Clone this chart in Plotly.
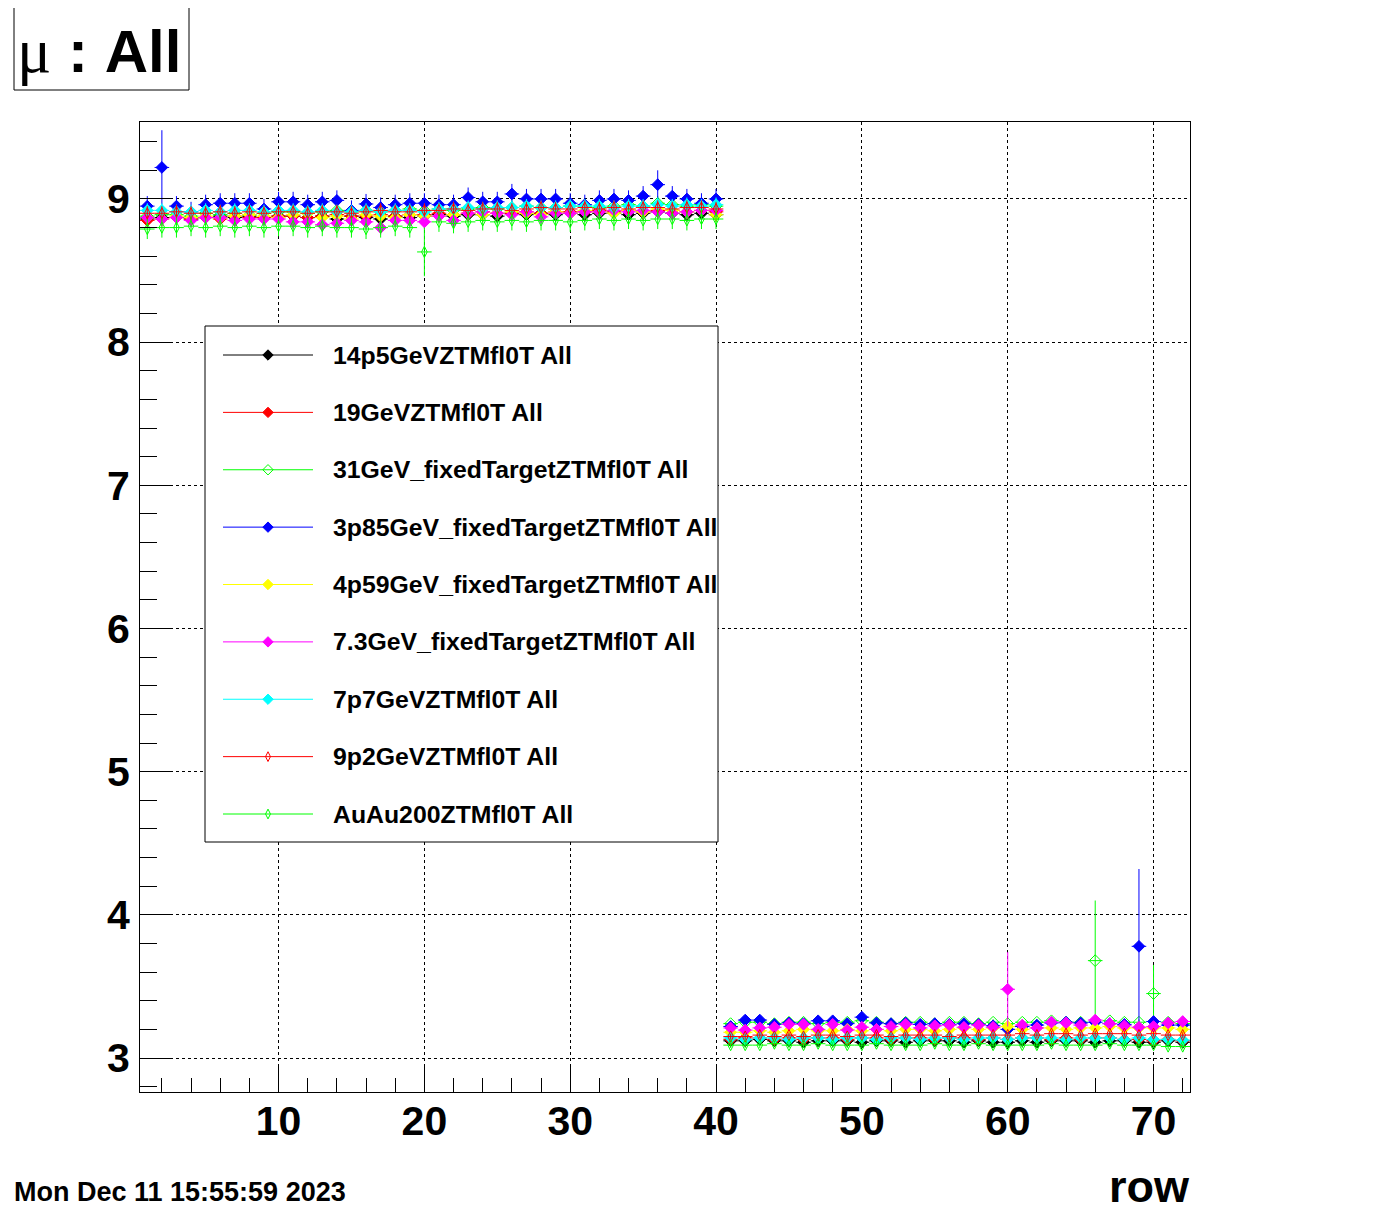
import plotly.graph_objects as go

# ---------------- data ----------------
rows = list(range(1, 73))

names = [
    "14p5GeVZTMfl0T All",
    "19GeVZTMfl0T All",
    "31GeV_fixedTargetZTMfl0T All",
    "3p85GeV_fixedTargetZTMfl0T All",
    "4p59GeV_fixedTargetZTMfl0T All",
    "7.3GeV_fixedTargetZTMfl0T All",
    "7p7GeVZTMfl0T All",
    "9p2GeVZTMfl0T All",
    "AuAu200ZTMfl0T All",
]

v_14p5 = [8.86, 8.87, 8.87, 8.86, 8.87, 8.88, 8.87, 8.88, 8.87, 8.88,
          8.88, 8.87, 8.88, 8.86, 8.88, 8.87, 8.86, 8.88, 8.87, 8.88,
          8.89, 8.88, 8.89, 8.89, 8.88, 8.90, 8.89, 8.90, 8.89, 8.90,
          8.89, 8.90, 8.90, 8.89, 8.90, 8.91, 8.90, 8.89, 8.90, 8.89,
          3.12, 3.12, 3.13, 3.12, 3.12, 3.11, 3.12, 3.12, 3.12, 3.11,
          3.12, 3.12, 3.11, 3.12, 3.12, 3.12, 3.11, 3.12, 3.11, 3.11,
          3.12, 3.11, 3.12, 3.12, 3.12, 3.11, 3.12, 3.12, 3.11, 3.11,
          3.12, 3.11]

v_19 = [8.85, 8.86, 8.87, 8.86, 8.87, 8.86, 8.88, 8.87, 8.87, 8.88,
        8.88, 8.87, 8.88, 8.89, 8.88, 8.88, 8.89, 8.88, 8.89, 8.89,
        8.90, 8.89, 8.90, 8.91, 8.90, 8.90, 8.91, 8.90, 8.91, 8.91,
        8.91, 8.92, 8.91, 8.92, 8.91, 8.92, 8.92, 8.91, 8.92, 8.91,
        3.13, 3.14, 3.14, 3.13, 3.14, 3.13, 3.14, 3.14, 3.13, 3.14,
        3.14, 3.13, 3.14, 3.14, 3.13, 3.14, 3.14, 3.13, 3.14, 3.13,
        3.14, 3.14, 3.13, 3.14, 3.13, 3.14, 3.14, 3.13, 3.13, 3.12,
        3.13, 3.12]

v_31 = [8.88, 8.89, 8.89, 8.88, 8.90, 8.89, 8.90, 8.89, 8.90, 8.91,
        8.91, 8.90, 8.91, 8.92, 8.91, 8.92, 8.91, 8.92, 8.93, 8.92,
        8.93, 8.92, 8.93, 8.94, 8.93, 8.94, 8.95, 8.94, 8.94, 8.95,
        8.95, 8.94, 8.95, 8.96, 8.95, 8.97, 8.96, 8.95, 8.96, 8.95,
        3.24, 3.25, 3.25, 3.24, 3.25, 3.25, 3.24, 3.25, 3.25, 3.26,
        3.25, 3.24, 3.25, 3.25, 3.24, 3.25, 3.25, 3.24, 3.25, 3.24,
        3.25, 3.25, 3.26, 3.25, 3.25, 3.68, 3.26, 3.25, 3.25, 3.45,
        3.25, 3.24]

v_3p85 = [8.95, 9.22, 8.95, 8.91, 8.96, 8.97, 8.97, 8.97, 8.93, 8.98,
          8.98, 8.96, 8.98, 8.99, 8.92, 8.965, 8.94, 8.96, 8.97, 8.97,
          8.96, 8.96, 9.01, 8.98, 8.98, 9.035, 9.00, 9.00, 9.00, 8.97,
          8.96, 8.99, 9.00, 8.99, 9.02, 9.10, 9.02, 9.00, 8.97, 9.00,
          3.22, 3.265, 3.265, 3.235, 3.245, 3.24, 3.26, 3.26, 3.24, 3.285,
          3.245, 3.24, 3.245, 3.235, 3.24, 3.235, 3.24, 3.235, 3.225, 3.20,
          3.22, 3.23, 3.245, 3.25, 3.245, 3.25, 3.24, 3.235, 3.78, 3.255,
          3.23, 3.23]

v_4p59 = [8.87, 8.86, 8.88, 8.87, 8.88, 8.87, 8.88, 8.89, 8.88, 8.87,
          8.89, 8.90, 8.87, 8.88, 8.86, 8.89, 8.88, 8.87, 8.89, 8.88,
          8.88, 8.89, 8.90, 8.89, 8.90, 8.91, 8.90, 8.89, 8.91, 8.90,
          8.92, 8.91, 8.90, 8.92, 8.91, 8.93, 8.92, 8.91, 8.92, 8.89,
          3.18, 3.18, 3.19, 3.18, 3.19, 3.20, 3.19, 3.19, 3.20, 3.19,
          3.20, 3.19, 3.20, 3.20, 3.19, 3.20, 3.21, 3.20, 3.21, 3.22,
          3.20, 3.21, 3.21, 3.20, 3.21, 3.21, 3.22, 3.21, 3.21, 3.21,
          3.21, 3.20]

v_7p3 = [8.87, 8.86, 8.87, 8.85, 8.87, 8.87, 8.85, 8.86, 8.86, 8.86,
         8.84, 8.84, 8.82, 8.83, 8.85, 8.84, 8.80, 8.85, 8.85, 8.84,
         8.88, 8.85, 8.90, 8.91, 8.90, 8.89, 8.91, 8.875, 8.90, 8.90,
         8.91, 8.91, 8.92, 8.91, 8.92, 8.91, 8.90, 8.91, 8.92, 8.92,
         3.21, 3.195, 3.21, 3.215, 3.235, 3.235, 3.20, 3.235, 3.195, 3.215,
         3.20, 3.22, 3.235, 3.21, 3.225, 3.23, 3.215, 3.23, 3.215, 3.48,
         3.23, 3.21, 3.25, 3.245, 3.23, 3.265, 3.24, 3.225, 3.215, 3.22,
         3.245, 3.255]

v_7p7 = [8.92, 8.92, 8.91, 8.91, 8.92, 8.91, 8.92, 8.92, 8.91, 8.92,
         8.92, 8.91, 8.92, 8.91, 8.91, 8.92, 8.91, 8.92, 8.92, 8.91,
         8.93, 8.93, 8.94, 8.93, 8.94, 8.94, 8.95, 8.94, 8.94, 8.95,
         8.95, 8.95, 8.94, 8.95, 8.95, 8.96, 8.95, 8.96, 8.95, 8.96,
         3.14, 3.13, 3.14, 3.14, 3.13, 3.14, 3.14, 3.13, 3.14, 3.14,
         3.13, 3.14, 3.14, 3.13, 3.14, 3.14, 3.13, 3.14, 3.14, 3.13,
         3.14, 3.14, 3.14, 3.13, 3.14, 3.14, 3.14, 3.13, 3.14, 3.13,
         3.13, 3.125]

v_9p2 = [8.90, 8.90, 8.91, 8.90, 8.90, 8.91, 8.90, 8.91, 8.90, 8.91,
         8.91, 8.90, 8.91, 8.91, 8.90, 8.91, 8.92, 8.91, 8.91, 8.92,
         8.92, 8.93, 8.92, 8.93, 8.93, 8.92, 8.93, 8.94, 8.93, 8.93,
         8.94, 8.93, 8.94, 8.93, 8.94, 8.94, 8.93, 8.94, 8.94, 8.93,
         3.15, 3.15, 3.16, 3.15, 3.16, 3.15, 3.16, 3.16, 3.15, 3.16,
         3.16, 3.15, 3.16, 3.16, 3.16, 3.15, 3.16, 3.16, 3.16, 3.16,
         3.17, 3.16, 3.17, 3.17, 3.16, 3.17, 3.17, 3.17, 3.16, 3.17,
         3.16, 3.16]

v_auau = [8.79, 8.80, 8.80, 8.81, 8.80, 8.81, 8.80, 8.81, 8.80, 8.81,
          8.81, 8.80, 8.81, 8.80, 8.80, 8.79, 8.80, 8.81, 8.80, 8.63,
          8.84, 8.83, 8.84, 8.85, 8.84, 8.85, 8.84, 8.85, 8.85, 8.84,
          8.85, 8.86, 8.85, 8.86, 8.85, 8.86, 8.86, 8.85, 8.86, 8.86,
          3.09, 3.09, 3.09, 3.10, 3.09, 3.09, 3.10, 3.09, 3.09, 3.09,
          3.10, 3.09, 3.09, 3.09, 3.10, 3.09, 3.09, 3.10, 3.09, 3.09,
          3.09, 3.09, 3.10, 3.09, 3.09, 3.09, 3.10, 3.09, 3.09, 3.09,
          3.08, 3.08]

values = [v_14p5, v_19, v_31, v_3p85, v_4p59, v_7p3, v_7p7, v_9p2, v_auau]

# typical errors (rows 1-40, rows 41-72)
err_inner = [0.05, 0.05, 0.05, 0.07, 0.05, 0.05, 0.05, 0.05, 0.07]
err_outer = [0.02, 0.02, 0.02, 0.02, 0.02, 0.02, 0.02, 0.02, 0.02]
# individual larger error bars: (series index, row) -> error
err_special = {(3, 2): 0.26, (3, 36): 0.10, (8, 20): 0.17,
               (5, 60): 0.26, (2, 66): 0.42, (3, 69): 0.54, (2, 70): 0.20}
bin_half_width = 0.5

# ---------------- styles ----------------
colors = ["#000000", "#ff0000", "#00ff00", "#0000ff", "#ffff00",
          "#ff00ff", "#00ffff", "#ff0000", "#00ff00"]
symbols = ["diamond", "diamond", "diamond-open", "diamond", "diamond",
           "diamond", "diamond", "diamond-tall-open", "diamond-tall-open"]
msize = [9, 9, 9, 9, 9, 9, 9, 8, 8]
leg_msize = [8, 8, 8, 8, 8, 8, 8, 7, 7]

OFF = 8                               # page body margin of the browser
W, H = 1400, 1214
L, R, T, B = 140, 1190, 122, 1092     # plot area in page pixels
YMIN, YMAX = 2.7625, 9.5375
XMIN, XMAX = 0.5, 72.5


def px(xp):
    return (xp - L) / (R - L)


def py(yp):
    return (B - yp) / (B - T)


fig = go.Figure()

for i, (name, vals) in enumerate(zip(names, values)):
    errs = []
    for r in rows:
        e = err_inner[i] if r <= 40 else err_outer[i]
        errs.append(err_special.get((i, r), e))
    fig.add_trace(go.Scatter(
        x=rows, y=vals, mode="markers", name=name, showlegend=False,
        marker=dict(symbol=symbols[i], size=msize[i], color=colors[i],
                    line=dict(color=colors[i], width=1)),
        error_y=dict(type="data", array=errs, color=colors[i], thickness=1, width=0),
        error_x=dict(type="constant", value=bin_half_width, color=colors[i],
                     thickness=1, width=0),
        xaxis="x", yaxis="y", hoverinfo="skip",
    ))

# ---------------- manual legend (pixel space overlay axes) ----------------
leg_x0, leg_x1, leg_y0, leg_y1 = 205, 718, 326, 842
leg_first, leg_step = 355, 57.375
for i, name in enumerate(names):
    yy = leg_first + i * leg_step
    fig.add_trace(go.Scatter(
        x=[223, 268, 313], y=[yy, yy, yy], mode="lines",
        line=dict(color=colors[i], width=1), showlegend=False,
        xaxis="x2", yaxis="y2", hoverinfo="skip"))
    fig.add_trace(go.Scatter(
        x=[268], y=[yy], mode="markers",
        marker=dict(symbol=symbols[i], size=leg_msize[i], color=colors[i],
                    line=dict(color=colors[i], width=1)),
        showlegend=False, xaxis="x2", yaxis="y2", hoverinfo="skip"))
    fig.add_annotation(x=331, y=yy, xref="x2", yref="y2", text=name,
                       showarrow=False, xanchor="left", yanchor="middle",
                       font=dict(family="Liberation Sans", size=24.8,
                                 weight="bold", color="black"))

# legend box (white, above grid, below traces)
fig.add_shape(type="rect", xref="x", yref="y",
              x0=XMIN + (leg_x0 - L) / (R - L) * (XMAX - XMIN),
              x1=XMIN + (leg_x1 - L) / (R - L) * (XMAX - XMIN),
              y0=YMIN + (B - leg_y1) / (B - T) * (YMAX - YMIN),
              y1=YMIN + (B - leg_y0) / (B - T) * (YMAX - YMIN),
              line=dict(color="black", width=1), fillcolor="white",
              layer="between")

# title box
fig.add_shape(type="rect", xref="paper", yref="paper",
              x0=px(14), x1=px(189), y0=py(90), y1=py(6),
              line=dict(color="black", width=1), fillcolor="white",
              layer="above")
fig.add_annotation(
    x=px(15), y=py(50), xref="paper", yref="paper", showarrow=False,
    xanchor="left", yanchor="middle",
    text="<span style='font-family:Liberation Serif;font-weight:normal;font-size:64px'>μ</span> : All",
    font=dict(family="Liberation Sans", size=60, weight="bold", color="black"))

# date stamp
fig.add_annotation(
    x=px(12), y=py(1192), xref="paper", yref="paper", showarrow=False,
    xanchor="left", yanchor="middle", text="Mon Dec 11 15:55:59 2023",
    font=dict(family="Liberation Sans", size=27, weight="bold", color="black"))

# x axis title
fig.add_annotation(
    x=px(1192), y=py(1186), xref="paper", yref="paper", showarrow=False,
    xanchor="right", yanchor="middle", text="row",
    font=dict(family="Liberation Sans", size=45, weight="bold", color="black"))

tickfont = dict(family="Liberation Sans", size=41, weight="bold", color="black")

fig.update_layout(
    width=W - OFF, height=H - OFF,
    margin=dict(l=L - OFF, r=W - R, t=T - OFF, b=H - B, pad=0),
    paper_bgcolor="white", plot_bgcolor="white",
    showlegend=False,
    xaxis=dict(range=[XMIN, XMAX], tick0=0, dtick=10, ticks="inside",
               ticklen=27, tickwidth=1, tickcolor="black",
               minor=dict(dtick=2, tick0=0, ticks="inside", ticklen=14,
                          tickcolor="black", tickwidth=1, showgrid=False),
               showgrid=True, gridcolor="black", griddash="dot", gridwidth=1,
               showline=True, linecolor="black", linewidth=1, mirror=True,
               zeroline=False, tickfont=tickfont, ticklabelstandoff=-7),
    yaxis=dict(range=[YMIN, YMAX], tick0=0, dtick=1, ticks="inside",
               ticklen=33, tickwidth=1, tickcolor="black",
               minor=dict(dtick=0.2, tick0=0, ticks="inside", ticklen=17,
                          tickcolor="black", tickwidth=1, showgrid=False),
               showgrid=True, gridcolor="black", griddash="dot", gridwidth=1,
               showline=True, linecolor="black", linewidth=1, mirror=True,
               zeroline=False, tickfont=tickfont, ticklabelstandoff=1),
    xaxis2=dict(overlaying="x", range=[L, R], visible=False, fixedrange=True),
    yaxis2=dict(overlaying="y", range=[B, T], visible=False, fixedrange=True),
)

fig.write_html("out.html")
